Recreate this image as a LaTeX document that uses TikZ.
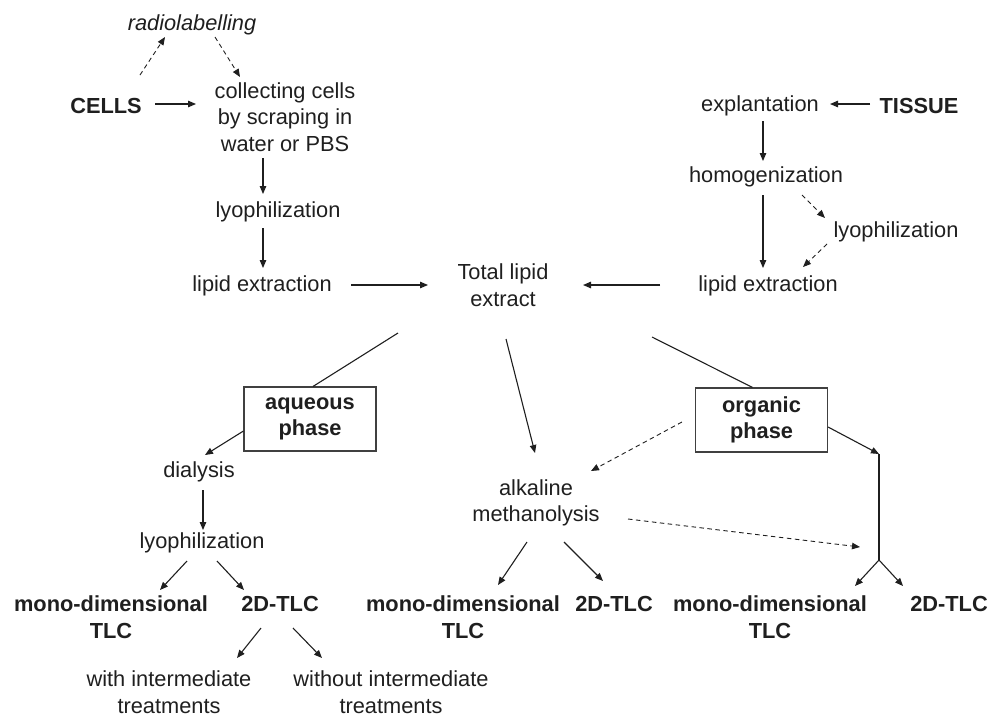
\documentclass[tikz,border=0pt]{standalone}
\usepackage{fontspec}
\setmainfont{Liberation Sans}
\usetikzlibrary{arrows.meta,calc}
\begin{document}
\begin{tikzpicture}[x=1pt,y=-1pt,
  every node/.style={font=\fontsize{21.8}{26.5}\selectfont, align=center, inner sep=0pt, text=black!88},
  bld/.style={font=\fontsize{21.8}{26.5}\selectfont\bfseries},
  phasebox/.style={draw=black!75, line width=1.1pt, minimum width=132pt, minimum height=64pt, font=\fontsize{21.8}{26.5}\selectfont\bfseries},
  arr/.style={-{Triangle[length=8pt,width=6.5pt]}, line width=1.1pt, draw=black!88},
  darr/.style={arr, line width=0.9pt, dash pattern=on 4.5pt off 3.5pt},
  plainline/.style={line width=1.1pt, draw=black!88}]
\useasboundingbox (0,0) rectangle (1001,716);

% nodes
\node (radio) at (192,25) {\itshape radiolabelling};
\node[bld] (cells) at (106,106) {CELLS};
\node (collect) at (285,117) {collecting cells\\by scraping in\\water or PBS};
\node (lyo1) at (278,212) {lyophilization};
\node (lip1) at (262,286) {lipid extraction};
\node (total) at (503,285) {Total lipid\\extract};
\node (lip2) at (768,286) {lipid extraction};
\node (homog) at (766,177) {homogenization};
\node (lyo2) at (896,232) {lyophilization};
\node (expl) at (760,106) {explantation};
\node[bld] (tissue) at (919,106) {TISSUE};
\node[phasebox] (aq) at (310,419) {aqueous\\phase};
\node[phasebox] (org) at (761.5,420) {organic\\phase};
\node (dial) at (199,472) {dialysis};
\node (lyo3) at (202,543) {lyophilization};
\node[bld] (mono1) at (111,617) {mono-dimensional\\TLC};
\node[bld] (tlc1) at (280,604) {2D-TLC};
\node (with) at (169,692) {with intermediate\\treatments};
\node (without) at (391,692) {without intermediate\\treatments};
\node (alk) at (536,503) {alkaline\\methanolysis};
\node[bld] (mono2) at (463,617) {mono-dimensional\\TLC};
\node[bld] (tlc2) at (614,604) {2D-TLC};
\node[bld] (mono3) at (770,617) {mono-dimensional\\TLC};
\node[bld] (tlc3) at (949,604) {2D-TLC};
\coordinate (j1) at (879,454);
\coordinate (j2) at (879,560);

% connectors
\draw[arr] ($(cells)+(49,-2)$) -- ($(collect)+(-89,-13)$);
\draw[darr] ($(cells)+(34,-31)$) -- ($(radio)+(-27,12)$);
\draw[darr] ($(radio)+(23,12)$) -- ($(collect)+(-45,-40)$);
\draw[arr] ($(collect)+(-22,41)$) -- ($(lyo1)+(-15,-18)$);
\draw[arr] ($(lyo1)+(-15,16)$) -- ($(lip1)+(1,-18)$);
\draw[arr] ($(lip1)+(89,-1)$) -- ($(total)+(-75,0)$);
\draw[arr] ($(lip2)+(-108,-1)$) -- ($(total)+(80,0)$);
\draw[arr] ($(homog)+(-3,18)$) -- ($(lip2)+(-5,-18)$);
\draw[darr] ($(homog)+(36,18)$) -- ($(lyo2)+(-71,-14)$);
\draw[darr] ($(lyo2)+(-69,12)$) -- ($(lip2)+(35,-19)$);
\draw[arr] ($(tissue)+(-49,-2)$) -- ($(expl)+(70,-2)$);
\draw[arr] ($(expl)+(3,15)$) -- ($(homog)+(-3,-16)$);
\draw[plainline] ($(total)+(-105,48)$) -- ($(aq.north)+(3,0)$);
\draw[arr] ($(aq.west)+(0,12)$) -- ($(dial)+(6,-17)$);
\draw[arr] ($(dial)+(4,18)$) -- ($(lyo3)+(1,-13)$);
\draw[arr] ($(lyo3)+(-15,18)$) -- ($(mono1)+(49,-27)$);
\draw[arr] ($(lyo3)+(15,18)$) -- ($(tlc1)+(-36,-14)$);
\draw[arr] ($(tlc1)+(-19,24)$) -- ($(with)+(68,-34)$);
\draw[arr] ($(tlc1)+(13,24)$) -- ($(without)+(-69,-34)$);
\draw[arr] ($(total)+(3,54)$) -- ($(alk)+(-1,-50)$);
\draw[plainline] ($(total)+(149,52)$) -- ($(org.north)+(-9,0)$);
\draw[darr] ($(org.west)+(-13,2)$) -- ($(alk)+(55,-32)$);
\draw[arr] ($(org.east)+(0,7)$) -- (j1);
\draw[plainline] (j1) -- (j2);
\draw[arr] (j2) -- ($(mono3)+(85,-31)$);
\draw[arr] (j2) -- ($(tlc3)+(-46,-18)$);
\draw[darr] ($(alk)+(92,16)$) -- ($(j2)+(-19,-13)$);
\draw[arr] ($(alk)+(-9,39)$) -- ($(mono2)+(35,-32)$);
\draw[arr] ($(alk)+(28,39)$) -- ($(tlc2)+(-11,-23)$);
\end{tikzpicture}
\end{document}
